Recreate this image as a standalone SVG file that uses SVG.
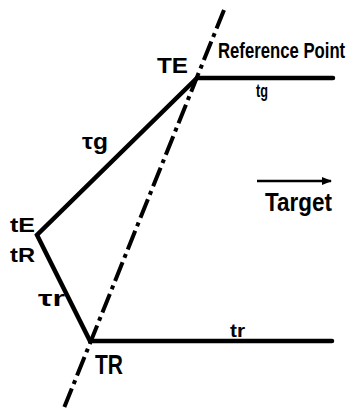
<svg xmlns="http://www.w3.org/2000/svg" width="354" height="413" viewBox="0 0 354 413">
<defs>
<style>
.s{stroke:#000;stroke-width:4.5;fill:none;stroke-linecap:round}
.d{stroke:#000;stroke-width:4;fill:none;stroke-dasharray:20 5 4 5}
.t{font-family:"Liberation Sans",Arial,sans-serif;font-weight:bold;fill:#000}
</style>
<marker id="ah" markerWidth="10" markerHeight="8" refX="9" refY="4" orient="auto" markerUnits="userSpaceOnUse">
<path d="M0,0 L10,4 L0,8 Z" fill="#000"/>
</marker>
</defs>
<rect width="354" height="413" fill="#fff"/>
<g id="connectors">
<path class="d" d="M224,10 L64,408"/>
<path class="s" d="M333,78 L197,78 L37,235 L90,341 L332,341"/>
<path d="M257,181 L331,181" stroke="#000" stroke-width="2.5" marker-end="url(#ah)"/>
</g>
<g id="TE"><text class="t" x="157" y="73" font-size="22" textLength="31" lengthAdjust="spacingAndGlyphs">TE</text></g>
<g id="ReferencePoint" transform="translate(218,58) scale(0.76,1)"><text class="t" x="0" y="0" font-size="22">Reference Point</text></g>
<g id="tg"><text class="t" x="256" y="97" font-size="18" textLength="12" lengthAdjust="spacingAndGlyphs">tg</text></g>
<g id="taug"><text class="t" x="82" y="149" font-size="22" textLength="26" lengthAdjust="spacingAndGlyphs">τg</text></g>
<g id="tE"><text class="t" x="10" y="232" font-size="21" textLength="25" lengthAdjust="spacingAndGlyphs">tE</text></g>
<g id="tR"><text class="t" x="10" y="262" font-size="21" textLength="25" lengthAdjust="spacingAndGlyphs">tR</text></g>
<g id="taur"><text class="t" x="38" y="306" font-size="22" textLength="27" lengthAdjust="spacingAndGlyphs">τr</text></g>
<g id="TR"><text class="t" x="95" y="374" font-size="28" textLength="28" lengthAdjust="spacingAndGlyphs">TR</text></g>
<g id="tr"><text class="t" x="230" y="337" font-size="18" textLength="15" lengthAdjust="spacingAndGlyphs">tr</text></g>
<g id="Target"><text class="t" x="265" y="211" font-size="25" textLength="67" lengthAdjust="spacingAndGlyphs">Target</text></g>
</svg>
